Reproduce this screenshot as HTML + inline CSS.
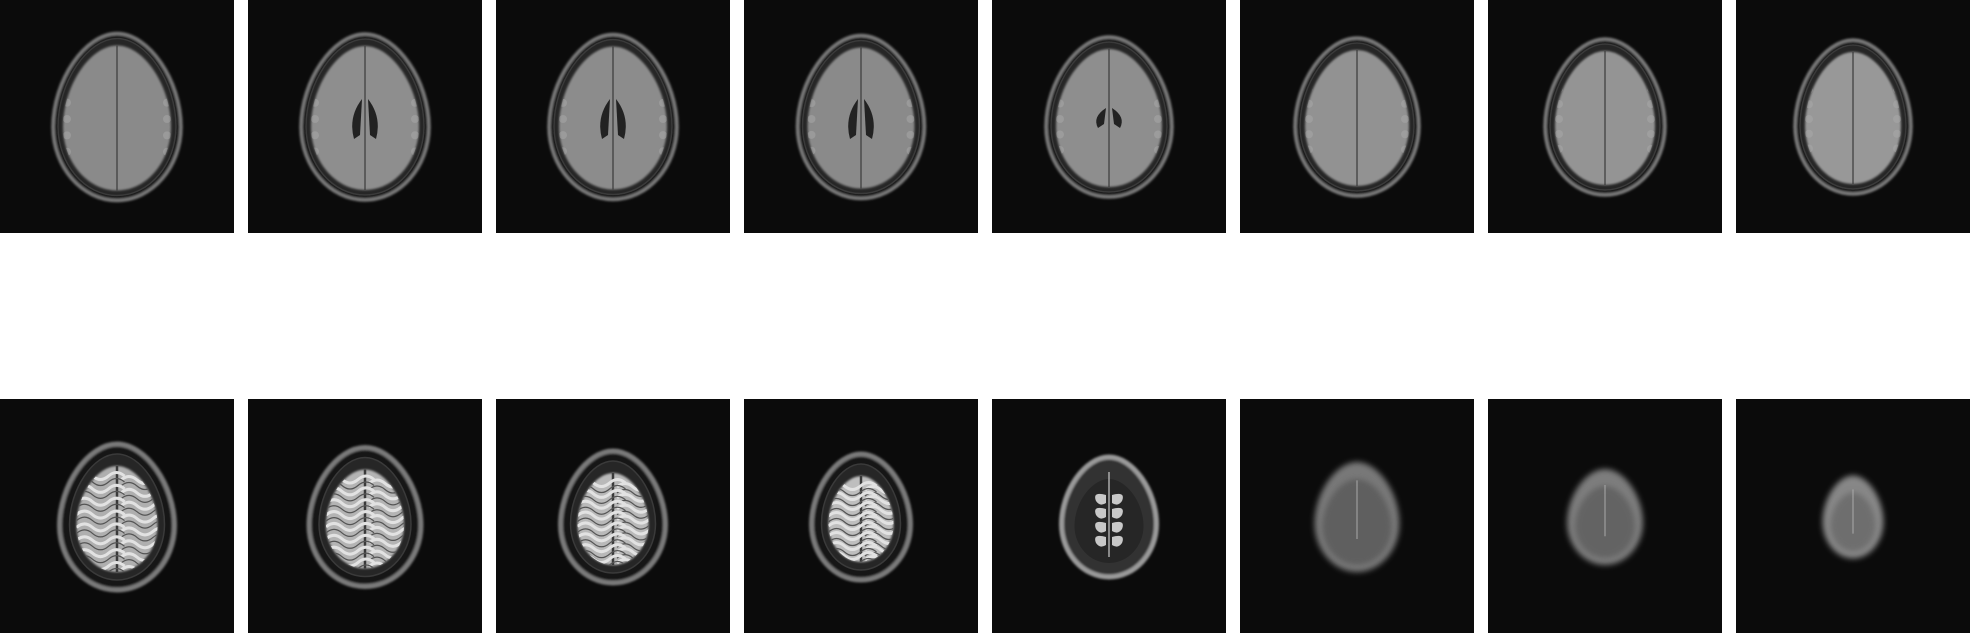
<!DOCTYPE html>
<html><head><meta charset="utf-8"><style>
html,body{margin:0;padding:0;background:#fff;width:1970px;height:633px;overflow:hidden;font-family:"Liberation Sans",sans-serif}
svg{display:block}
</style></head><body>
<svg id="fig" width="1970" height="633" viewBox="0 0 1970 633" xmlns="http://www.w3.org/2000/svg">
<defs>
<filter id="blur1"><feGaussianBlur stdDeviation="1"/></filter>
<filter id="blur3"><feGaussianBlur stdDeviation="3"/></filter>
</defs>
</svg>
<script>
// slice data: head width/height, brain brightness, kind
const sliceIndex=[0,1,2,3,4,5,6,7,8,9,10,11,12,13,14,15];
const headW=[128,128,128,127,126,124,120,116,115,112,105,99,95,85,76,61];
const headH=[167,166,165,163,160,158,156,154,146,139,132,126,120,110,96,83];
const brainGray=[138,142,140,138,142,146,148,152,175,180,185,190,120,120,125,135];
const ventricle=[0,1,1,1,0.5,0,0,0,0,0,0,0,0,0,0,0];
const kind=['axial','axial','axial','axial','axial','axial','axial','axial','gyri','gyri','gyri','gyri','sparse','haze','haze','haze'];

const svg=document.getElementById('fig');
const defs=svg.querySelector('defs');
const NS='http://www.w3.org/2000/svg';
const PW=234,PITCH=248,ROW_Y=[0,399],PH=[233,234];
function el(t,a,p){const e=document.createElementNS(NS,t);for(const k in a)e.setAttribute(k,a[k]);(p||svg).appendChild(e);return e;}
function egg(cx,cy,w,h){
  const top=cy-h/2,bot=cy+h/2,mid=cy+h*0.06,bw=w/2;
  return `M${cx},${top} C${cx+bw*0.5},${top} ${cx+bw},${top+h*0.28} ${cx+bw},${mid} C${cx+bw},${bot-h*0.2} ${cx+bw*0.55},${bot} ${cx},${bot} C${cx-bw*0.55},${bot} ${cx-bw},${bot-h*0.2} ${cx-bw},${mid} C${cx-bw},${top+h*0.28} ${cx-bw*0.5},${top} ${cx},${top}Z`;
}
sliceIndex.forEach(i=>{
  const row=i<8?0:1,col=i%8;
  const x0=col*PITCH,y0=ROW_Y[row],ph=PH[row];
  const g=el('g',{transform:`translate(${x0},${y0})`});
  
  
  el('rect',{x:0,y:0,width:PW,height:ph,fill:'#0b0b0b'},g);
  const cx=117,cy=row===0?117:118,w=headW[i],h=headH[i],gv=brainGray[i];
  const c=`rgb(${gv},${gv},${gv})`;
  const k=kind[i];
  if(k==='axial'||k==='gyri'){
    el('path',{d:egg(cx,cy,w,h),fill:'#151515',stroke:'#7a7a7a','stroke-width':k==='gyri'?5:3.5,filter:'url(#blur1)'},g);
    el('path',{d:egg(cx,cy,w-(k==='gyri'?20:10),h-(k==='gyri'?20:10)),fill:'#262626',stroke:'#3a3a3a','stroke-width':1.5},g);
    const bw=w-(k==='gyri'?34:20),bh=h-(k==='gyri'?40:22);
    const by=cy+(k==='gyri'?2:1);
    const cp=el('clipPath',{id:'cp'+i},defs);
    el('path',{d:egg(cx,by,bw,bh)},cp);
    el('path',{d:egg(cx,by,bw,bh),fill:c,filter:'url(#blur1)'},g);
    const inner=el('g',{'clip-path':`url(#cp${i})`},g);
    el('line',{x1:cx,y1:by-bh/2,x2:cx,y2:by+bh/2,stroke:'#3a3a3a','stroke-width':k==='gyri'?2.5:1.2},inner);
    if(k==='gyri'){
      for(let j=0;j<8;j++){const yy=by-bh/2+10+j*(bh-16)/7;
        el('path',{d:`M${cx-bw/2},${yy} q8,-7 16,0 t16,0 t16,0`,stroke:'#e2e2e2','stroke-width':3,fill:'none'},inner);
        el('path',{d:`M${cx+4},${yy+4} q8,-7 16,0 t16,0 t16,0`,stroke:'#e2e2e2','stroke-width':3,fill:'none'},inner);
        el('path',{d:`M${cx-bw/2},${yy+6} q8,-7 16,0 t16,0 t16,0`,stroke:'#555','stroke-width':1.2,fill:'none'},inner);
        el('path',{d:`M${cx+4},${yy+10} q8,-7 16,0 t16,0 t16,0`,stroke:'#555','stroke-width':1.2,fill:'none'},inner);}
    } else {
      for(let j=0;j<9;j++){const yy=by-bh/2+8+j*(bh-14)/8;
        el('circle',{cx:cx-bw/2+4,cy:yy,r:4,fill:'#aaa',opacity:0.5},inner);
        el('circle',{cx:cx+bw/2-4,cy:yy,r:4,fill:'#aaa',opacity:0.5},inner);}
    }
    if(ventricle[i]>0){const s=ventricle[i];
      el('path',{d:`M${cx-3},${cy-18*s} q-14,${18*s} -8,${40*s} l6,-4 z`,fill:'#222'},g);
      el('path',{d:`M${cx+3},${cy-18*s} q14,${18*s} 8,${40*s} l-6,-4 z`,fill:'#222'},g);}
  } else if(k==='sparse'){
    el('path',{d:egg(cx,cy,w,h),fill:'#333',stroke:'#9a9a9a','stroke-width':5,filter:'url(#blur1)'},g);
    el('path',{d:egg(cx,cy+4,w-26,h-36),fill:'#262626'},g);
    for(let j=0;j<4;j++){const yy=cy-22+j*14;
      el('path',{d:`M${cx-3},${yy} q-14,-4 -10,6 q4,6 10,2 z`,fill:'#c8c8c8'},g);
      el('path',{d:`M${cx+3},${yy} q14,-4 10,6 q-4,6 -10,2 z`,fill:'#c8c8c8'},g);}
    el('line',{x1:cx,y1:cy-45,x2:cx,y2:cy+40,stroke:'#aaa','stroke-width':1.5},g);
  } else {
    el('path',{d:egg(cx,cy,w,h),fill:c,filter:'url(#blur3)'},g);
    el('path',{d:egg(cx,cy+5,w-16,h-24),fill:`rgb(${gv-25},${gv-25},${gv-25})`,filter:'url(#blur3)'},g);
    el('line',{x1:cx,y1:cy-h/3,x2:cx,y2:cy+h/5,stroke:'#aaa','stroke-width':1},g);
  }
});
</script>
</body></html>
